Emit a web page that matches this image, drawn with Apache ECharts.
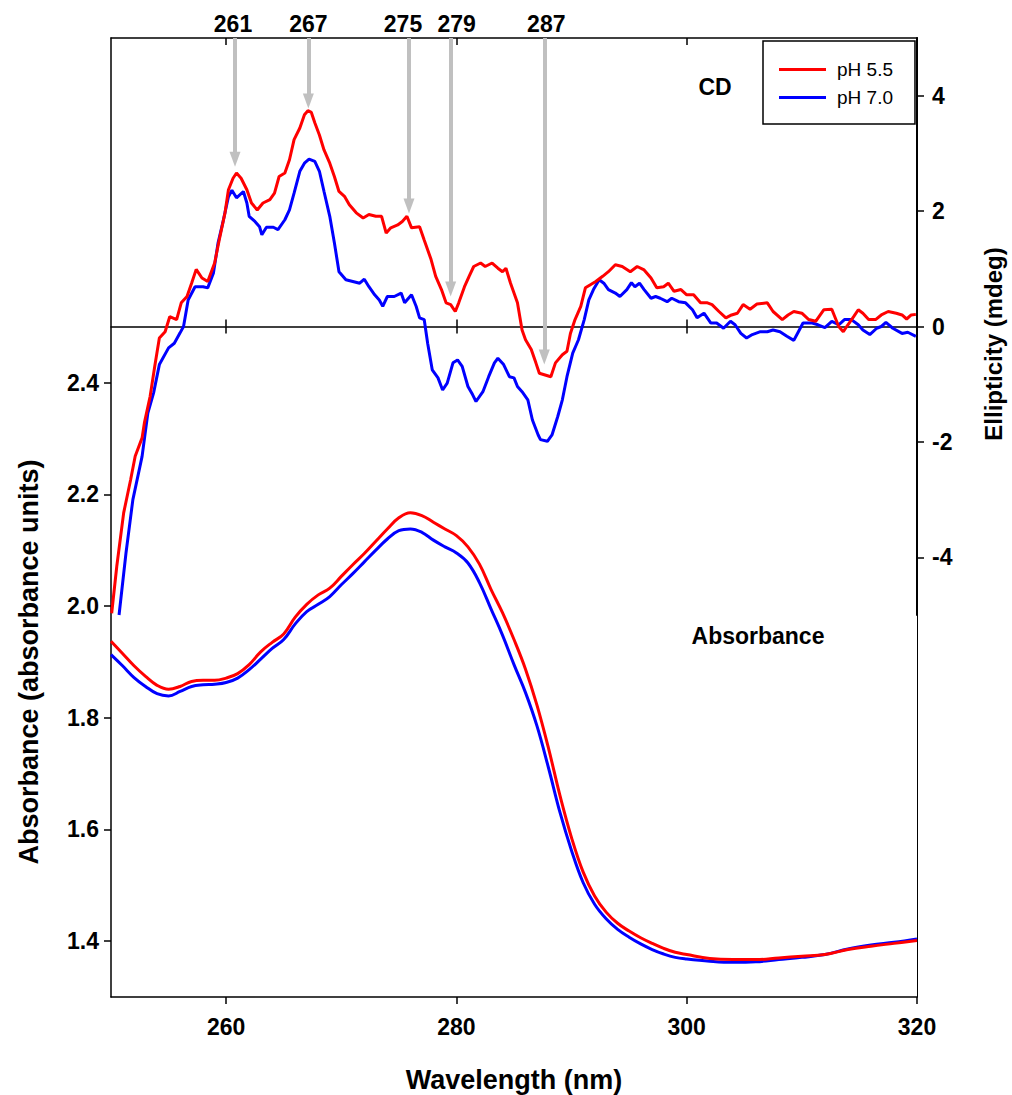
<!DOCTYPE html>
<html>
<head>
<meta charset="utf-8">
<script src="https://cdn.jsdelivr.net/npm/echarts@6/dist/echarts.min.js"></script>
<style>
html,body{margin:0;padding:0;background:#fff;}
#chart{width:1012px;height:1095px;}
</style>
</head>
<body>
<div id="chart"></div>
<script>
// ---------- DATA ----------
const xTicks = [260, 280, 300, 320];
const absTicks = [1.4, 1.6, 1.8, 2.0, 2.2, 2.4];
const cdTicks = [-4, -2, 0, 2, 4];

const absWavelength = [250,251,252,253,254,255,256,257,258,259,260,261,262,263,264,265,266,267,268,269,270,271,272,273,274,275,276,277,278,279,280,281,282,283,284,285,286,287,288,289,290,291,292,293,294,295,296,297,298,299,300,302,304,306,308,310,312,314,316,318,320];
const absPH55 = [1.937,1.915,1.893,1.874,1.858,1.851,1.856,1.865,1.867,1.867,1.871,1.879,1.895,1.918,1.935,1.950,1.980,2.003,2.020,2.032,2.053,2.074,2.094,2.116,2.138,2.158,2.167,2.162,2.150,2.138,2.126,2.106,2.075,2.030,1.988,1.940,1.887,1.822,1.745,1.660,1.585,1.524,1.481,1.452,1.432,1.418,1.406,1.396,1.387,1.380,1.376,1.369,1.367,1.367,1.370,1.373,1.376,1.385,1.391,1.396,1.401];
const absPH70 = [1.913,1.893,1.872,1.856,1.843,1.839,1.847,1.856,1.859,1.860,1.863,1.871,1.886,1.905,1.924,1.940,1.968,1.990,2.003,2.017,2.038,2.058,2.079,2.100,2.120,2.135,2.138,2.132,2.118,2.106,2.095,2.077,2.042,1.995,1.948,1.895,1.845,1.785,1.710,1.630,1.562,1.505,1.466,1.440,1.421,1.407,1.395,1.385,1.377,1.371,1.368,1.364,1.362,1.363,1.367,1.371,1.376,1.386,1.393,1.398,1.404];

const cdPH55 = [[250.06,-4.97],[250.5,-4.16],[251.1,-3.23],[251.7,-2.66],[252.1,-2.25],[252.7,-1.93],[252.9,-1.67],[253.4,-1.21],[253.8,-0.69],[254.2,-0.2],[254.7,-0.09],[255.1,0.17],[255.7,0.12],[256.1,0.41],[256.6,0.52],[257.0,0.75],[257.4,0.99],[257.9,0.84],[258.4,0.78],[259.0,1.10],[259.4,1.50],[259.9,1.97],[260.2,2.37],[260.6,2.57],[260.9,2.66],[261.3,2.57],[261.8,2.37],[262.2,2.14],[262.7,2.02],[263.2,2.14],[263.8,2.20],[264.2,2.31],[264.6,2.60],[265.1,2.66],[265.5,2.89],[265.9,3.24],[266.4,3.44],[266.8,3.67],[267.1,3.74],[267.4,3.71],[267.7,3.53],[268.1,3.32],[268.5,3.06],[269.0,2.83],[269.4,2.60],[269.8,2.34],[270.3,2.25],[270.7,2.11],[271.3,1.97],[271.9,1.88],[272.4,1.94],[273.0,1.91],[273.5,1.91],[273.9,1.62],[274.3,1.71],[274.9,1.76],[275.3,1.82],[275.7,1.91],[276.1,1.71],[276.8,1.73],[277.2,1.50],[277.8,1.16],[278.2,0.87],[278.7,0.64],[279.1,0.41],[279.5,0.38],[279.9,0.26],[280.2,0.41],[280.7,0.69],[281.1,0.87],[281.5,1.04],[282.1,1.10],[282.5,1.04],[283.1,1.10],[283.6,1.01],[284.0,0.95],[284.3,1.01],[284.7,0.75],[285.3,0.41],[285.7,-0.06],[286.0,-0.23],[286.5,-0.40],[286.9,-0.63],[287.2,-0.81],[287.7,-0.84],[288.2,-0.87],[288.6,-0.63],[289.2,-0.49],[289.6,-0.43],[289.9,-0.12],[290.3,0.12],[290.8,0.35],[291.2,0.67],[291.6,0.72],[292.1,0.78],[292.7,0.87],[293.2,0.95],[293.8,1.07],[294.4,1.04],[295.1,0.95],[295.7,1.04],[296.3,0.98],[296.9,0.84],[297.4,0.67],[298.0,0.69],[298.4,0.75],[298.9,0.61],[299.5,0.64],[300.0,0.55],[300.6,0.55],[301.2,0.41],[301.8,0.41],[302.2,0.38],[302.8,0.26],[303.4,0.15],[303.9,0.20],[304.4,0.23],[304.9,0.38],[305.5,0.30],[306.1,0.39],[307.0,0.41],[307.5,0.26],[308.3,0.12],[308.8,0.20],[309.3,0.26],[310.0,0.23],[310.6,0.12],[311.2,0.09],[311.9,0.29],[312.6,0.30],[313.2,0.0],[313.6,-0.09],[314.0,0.03],[314.5,0.17],[314.9,0.29],[315.3,0.23],[315.8,0.12],[316.4,0.12],[316.9,0.20],[317.5,0.26],[318.2,0.23],[318.7,0.20],[319.1,0.13],[319.5,0.20],[319.9,0.21]];

const cdPH70 = [[250.7,-5.0],[251.3,-3.93],[251.9,-3.0],[252.7,-2.25],[253.2,-1.5],[253.7,-1.15],[254.2,-0.66],[255.0,-0.37],[255.5,-0.29],[256.0,-0.11],[256.3,0.0],[256.7,0.46],[257.3,0.69],[258.0,0.69],[258.4,0.67],[258.9,0.93],[259.3,1.45],[259.7,1.79],[260.2,2.25],[260.5,2.36],[260.9,2.23],[261.5,2.34],[261.8,2.14],[262.0,1.91],[262.5,1.82],[262.9,1.73],[263.1,1.59],[263.5,1.72],[264.1,1.72],[264.5,1.68],[265.1,1.85],[265.5,2.02],[265.9,2.31],[266.4,2.69],[266.8,2.83],[267.2,2.90],[267.7,2.86],[268.1,2.69],[268.5,2.34],[269.0,1.91],[269.4,1.45],[269.8,0.95],[270.4,0.81],[271.0,0.78],[271.6,0.75],[272.0,0.82],[272.4,0.69],[272.9,0.55],[273.3,0.46],[273.6,0.35],[274.0,0.52],[274.6,0.52],[275.2,0.58],[275.5,0.41],[276.1,0.55],[276.5,0.35],[276.8,0.15],[277.2,0.12],[277.5,-0.29],[277.9,-0.75],[278.4,-0.89],[278.8,-1.10],[279.2,-0.98],[279.7,-0.63],[280.1,-0.58],[280.5,-0.69],[281.0,-1.04],[281.4,-1.18],[281.7,-1.30],[282.3,-1.13],[282.8,-0.87],[283.3,-0.63],[283.6,-0.55],[284.1,-0.66],[284.6,-0.87],[285.0,-0.89],[285.3,-1.04],[285.7,-1.13],[286.2,-1.27],[286.6,-1.62],[287.1,-1.88],[287.3,-1.96],[287.9,-1.99],[288.3,-1.88],[288.8,-1.56],[289.2,-1.27],[289.6,-0.87],[290.1,-0.46],[290.6,-0.23],[291.1,0.12],[291.5,0.46],[291.9,0.64],[292.4,0.81],[292.8,0.75],[293.2,0.64],[293.8,0.58],[294.2,0.52],[294.8,0.64],[295.2,0.76],[295.5,0.69],[295.9,0.75],[296.3,0.64],[296.9,0.49],[297.3,0.52],[297.7,0.49],[298.3,0.43],[298.7,0.49],[299.3,0.43],[299.9,0.41],[300.5,0.29],[300.9,0.15],[301.5,0.23],[302.1,0.06],[302.6,0.06],[303.2,-0.03],[303.8,0.09],[304.2,0.03],[304.7,-0.12],[305.2,-0.20],[305.7,-0.14],[306.4,-0.09],[307.0,-0.09],[307.5,-0.06],[308.1,-0.09],[308.7,-0.17],[309.3,-0.24],[309.7,-0.09],[310.1,0.06],[310.9,0.06],[311.4,0.03],[312.0,-0.02],[312.6,0.09],[313.2,0.03],[313.7,0.12],[314.3,0.12],[314.9,0.03],[315.3,-0.06],[315.9,-0.14],[316.5,-0.03],[316.9,0.0],[317.3,0.07],[317.9,-0.03],[318.7,-0.12],[319.2,-0.10],[319.9,-0.17]];

const arrowLabels = ['261', '267', '275', '279', '287'];
const arrowWavelength = [260.77, 267.14, 275.88, 279.5, 287.63];
const arrowTop = 5;
const arrowEnd = [2.9, 3.91, 2.09, 0.65, -0.53];

// ---------- STYLE ----------
const FONT = '"Liberation Sans", Arial, Helvetica, sans-serif';
const BLACK = '#000';
const axisLineStyle = { color: BLACK, width: 1.5 };
const tickLabel = { fontSize: 23, fontWeight: 'bold', color: BLACK, fontFamily: FONT };
// small horizontal nudges of the arrow captions (px), as in the original figure
const arrowLabelNudge = [-2, 0, -6, 6, 2];

const chart = echarts.init(document.getElementById('chart'), null, { renderer: 'svg' });

const toPairs = (xs, ys) => xs.map((x, i) => [x, ys[i]]);

const option = {
  animation: false,
  backgroundColor: '#fff',
  grid: [
    { left: 111, top: 38, width: 806, height: 959, outerBoundsMode: 'none' },
    { left: 111, top: 38, width: 806, height: 577, outerBoundsMode: 'none' }
  ],
  xAxis: [
    { gridIndex: 0, type: 'value', min: 250, max: 320, position: 'bottom',
      axisLine: { show: true, onZero: false, lineStyle: axisLineStyle },
      axisTick: { show: true, length: 7, customValues: xTicks, lineStyle: axisLineStyle },
      axisLabel: Object.assign({ customValues: xTicks, margin: 18 }, tickLabel),
      splitLine: { show: false } },
    { gridIndex: 0, type: 'value', min: 250, max: 320, position: 'top',
      axisLine: { show: true, onZero: false, lineStyle: axisLineStyle },
      axisTick: { show: true, inside: true, length: 7, customValues: [260, 280, 300], lineStyle: axisLineStyle },
      axisLabel: { show: false }, splitLine: { show: false } },
    { gridIndex: 1, type: 'value', min: 250, max: 320, position: 'bottom',
      axisLine: { show: true, onZero: true, onZeroAxisIndex: 2, lineStyle: axisLineStyle },
      axisTick: { show: true, length: 7, customValues: [260, 280, 300], lineStyle: axisLineStyle },
      axisLabel: { show: false }, splitLine: { show: false } },
    { gridIndex: 1, type: 'value', min: 250, max: 320, position: 'bottom',
      axisLine: { show: false, onZero: true, onZeroAxisIndex: 2 },
      axisTick: { show: true, inside: true, length: 7, customValues: [260, 280, 300], lineStyle: axisLineStyle },
      axisLabel: { show: false }, splitLine: { show: false } }
  ],
  yAxis: [
    { gridIndex: 0, type: 'value', min: 1.3, max: 3.017, position: 'left',
      axisLine: { show: true, onZero: false, lineStyle: axisLineStyle },
      axisTick: { show: true, length: 7, customValues: absTicks, lineStyle: axisLineStyle },
      axisLabel: Object.assign({ customValues: absTicks, margin: 12, formatter: v => Number(v).toFixed(1) }, tickLabel),
      splitLine: { show: false } },
    { gridIndex: 0, type: 'value', min: 1.3, max: 3.017, position: 'right',
      axisLine: { show: true, onZero: false, lineStyle: { color: BLACK, width: 1 } },
      axisTick: { show: false }, axisLabel: { show: false }, splitLine: { show: false } },
    { gridIndex: 1, type: 'value', min: -5, max: 5, position: 'right',
      axisLine: { show: true, onZero: false, lineStyle: { color: BLACK, width: 2 } },
      axisTick: { show: true, length: 7, customValues: cdTicks, lineStyle: axisLineStyle },
      axisLabel: Object.assign({ customValues: cdTicks, margin: 15 }, tickLabel),
      splitLine: { show: false } }
  ],
  legend: {
    data: ['pH 5.5', 'pH 7.0'],
    orient: 'vertical', left: 763, top: 41,
    padding: [19, 22, 17, 16],
    icon: 'rect',
    itemWidth: 47, itemHeight: 3, itemGap: 9,
    borderColor: BLACK, borderWidth: 1.5,
    selectedMode: false,
    textStyle: { fontSize: 19, color: BLACK, fontFamily: FONT, padding: [0, 0, 0, 6] }
  },
  graphic: [
    { type: 'text', x: 715, y: 87, style: { text: 'CD', font: 'bold 23px ' + FONT, fill: BLACK, textAlign: 'center', textVerticalAlign: 'middle' } },
    { type: 'text', x: 758, y: 636, style: { text: 'Absorbance', font: 'bold 23px ' + FONT, fill: BLACK, textAlign: 'center', textVerticalAlign: 'middle' } },
    { type: 'text', x: 514, y: 1080, style: { text: 'Wavelength (nm)', font: 'bold 27px ' + FONT, fill: BLACK, textAlign: 'center', textVerticalAlign: 'middle' } },
    { type: 'text', x: 29, y: 662, rotation: Math.PI / 2, style: { text: 'Absorbance (absorbance units)', font: 'bold 27px ' + FONT, fill: BLACK, textAlign: 'center', textVerticalAlign: 'middle' } },
    { type: 'text', x: 993, y: 344, rotation: Math.PI / 2, style: { text: 'Ellipticity (mdeg)', font: 'bold 24px ' + FONT, fill: BLACK, textAlign: 'center', textVerticalAlign: 'middle' } }
  ],
  series: [
    { name: 'pH 7.0', type: 'line', xAxisIndex: 0, yAxisIndex: 0, data: toPairs(absWavelength, absPH70),
      smooth: 0.4, symbol: 'none', lineStyle: { color: '#0000ff', width: 3 }, itemStyle: { color: '#0000ff' } },
    { name: 'pH 5.5', type: 'line', xAxisIndex: 0, yAxisIndex: 0, data: toPairs(absWavelength, absPH55),
      smooth: 0.4, symbol: 'none', lineStyle: { color: '#ff0000', width: 3 }, itemStyle: { color: '#ff0000' } },
    { name: 'pH 7.0', type: 'line', xAxisIndex: 2, yAxisIndex: 2, data: cdPH70,
      symbol: 'none', lineStyle: { color: '#0000ff', width: 3 }, itemStyle: { color: '#0000ff' } },
    { name: 'pH 5.5', type: 'line', xAxisIndex: 2, yAxisIndex: 2, data: cdPH55, clip: false,
      symbol: 'none', lineStyle: { color: '#ff0000', width: 3 }, itemStyle: { color: '#ff0000' },
      markLine: {
        silent: true, animation: false,
        symbol: ['none', 'triangle'], symbolSize: [11, 15],
        lineStyle: { color: '#c0c0c0', width: 4, type: 'solid' },
        label: { show: true, position: 'start', distance: 3, formatter: '{b}',
                 fontSize: 23, fontWeight: 'bold', color: BLACK, fontFamily: FONT },
        emphasis: { disabled: true },
        data: arrowWavelength.map((w, i) => [
          { name: arrowLabels[i], coord: [w, arrowTop], label: { offset: [arrowLabelNudge[i], 0] } },
          { coord: [w, arrowEnd[i]] }
        ])
      } }
  ]
};
chart.setOption(option);
</script>
</body>
</html>
